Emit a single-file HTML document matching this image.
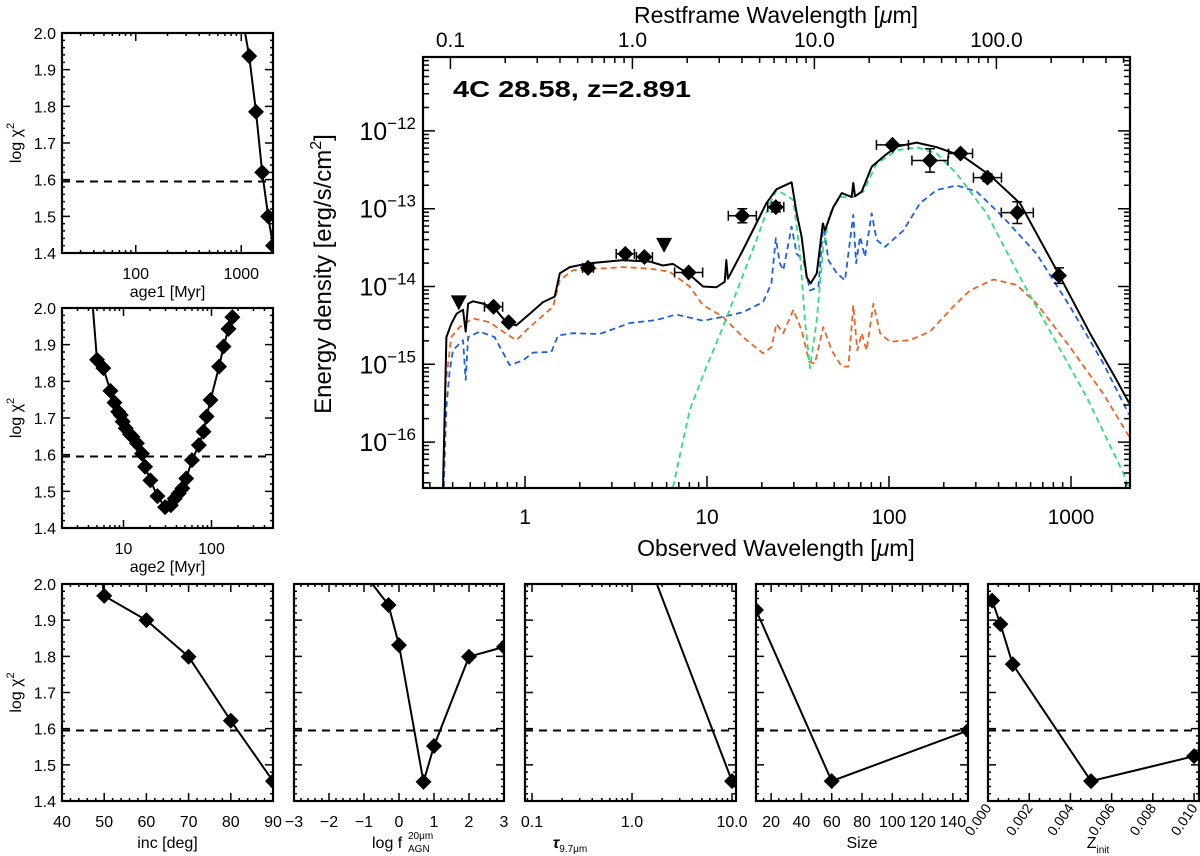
<!DOCTYPE html>
<html>
<head>
<meta charset="utf-8">
<style>
html,body{margin:0;padding:0;background:#fff;}
svg{display:block;font-family:"Liberation Sans","DejaVu Sans",sans-serif;}
</style>
</head>
<body>
<svg id="chart" width="1200" height="856" viewBox="0 0 1200 856" xmlns="http://www.w3.org/2000/svg">
<defs>
<clipPath id="clipMain"><rect x="423" y="57" width="707" height="431"/></clipPath>
</defs>
<rect x="0" y="0" width="1200" height="856" fill="#fff"/>
</svg>
<script>
// ===== MAIN SED DATA (log10 wavelength [um], log10 flux) =====
const totalLogLam=[-0.451,-0.432,-0.405,-0.376,-0.341,-0.326,-0.313,-0.286,-0.231,-0.167,-0.103,-0.048,0.026,0.099,0.163,0.191,0.246,0.355,0.538,0.685,0.758,0.813,0.905,0.978,1.051,1.097,1.106,1.115,1.198,1.271,1.326,1.381,1.465,1.493,1.520,1.548,1.570,1.603,1.636,1.648,1.694,1.740,1.795,1.804,1.813,1.850,1.905,1.969,2.042,2.152,2.262,2.408,2.555,2.720,2.921,3.104,3.25,3.32];
const totalLogF=[-16.58,-14.65,-14.48,-14.35,-14.30,-14.58,-14.22,-14.19,-14.22,-14.28,-14.46,-14.50,-14.35,-14.20,-14.13,-13.83,-13.75,-13.70,-13.66,-13.68,-13.73,-13.71,-13.85,-14.00,-14.01,-13.94,-13.66,-13.90,-13.53,-13.19,-12.93,-12.75,-12.66,-13.06,-13.36,-13.88,-13.96,-13.83,-13.19,-13.28,-12.98,-12.80,-12.85,-12.67,-12.84,-12.78,-12.46,-12.33,-12.20,-12.15,-12.21,-12.33,-12.57,-12.93,-13.79,-14.60,-15.20,-15.50];
const starLogLam=[-0.446,-0.436,-0.405,-0.359,-0.286,-0.194,-0.121,-0.048,0.026,0.154,0.191,0.264,0.538,0.685,0.795,0.905,0.978,1.088,1.198,1.308,1.354,1.381,1.419,1.474,1.520,1.562,1.593,1.639,1.685,1.740,1.777,1.804,1.826,1.850,1.877,1.914,1.951,2.005,2.115,2.225,2.353,2.445,2.573,2.701,2.811,2.995,3.178,3.32];
const starLogF=[-16.58,-15.25,-14.65,-14.52,-14.41,-14.46,-14.58,-14.69,-14.52,-14.26,-13.92,-13.79,-13.75,-13.77,-13.81,-14.00,-14.24,-14.39,-14.65,-14.86,-14.78,-14.48,-14.60,-14.30,-14.56,-14.97,-14.99,-14.52,-14.82,-15.03,-15.03,-14.24,-14.82,-14.60,-14.82,-14.22,-14.60,-14.71,-14.69,-14.58,-14.26,-14.05,-13.91,-13.98,-14.22,-14.78,-15.38,-15.93];
const agnLogLam=[-0.447,-0.432,-0.414,-0.396,-0.341,-0.326,-0.313,-0.249,-0.167,-0.084,-0.011,0.044,0.145,0.181,0.264,0.410,0.575,0.722,0.832,0.978,1.088,1.198,1.308,1.354,1.378,1.400,1.419,1.465,1.493,1.530,1.566,1.612,1.639,1.667,1.713,1.758,1.804,1.819,1.841,1.868,1.905,1.932,1.978,2.079,2.170,2.262,2.372,2.482,2.628,2.811,2.995,3.178,3.32];
const agnLogF=[-16.58,-15.55,-15.08,-14.82,-14.69,-15.20,-14.65,-14.58,-14.65,-15.01,-14.95,-14.85,-14.84,-14.63,-14.60,-14.61,-14.47,-14.43,-14.36,-14.44,-14.39,-14.33,-14.20,-13.96,-13.38,-13.70,-13.79,-13.23,-13.58,-13.66,-14.05,-14.01,-13.19,-13.66,-13.83,-13.92,-13.08,-13.70,-13.36,-13.62,-13.06,-13.40,-13.49,-13.28,-12.93,-12.76,-12.70,-12.78,-13.11,-13.58,-14.26,-14.99,-15.65];
const sbLogLam=[0.813,0.905,0.997,1.088,1.180,1.272,1.345,1.383,1.438,1.474,1.511,1.538,1.566,1.603,1.639,1.676,1.731,1.804,1.859,1.932,2.042,2.152,2.262,2.372,2.537,2.720,2.903,3.086,3.288,3.316];
const sbLogF=[-16.58,-15.59,-15.03,-14.52,-13.96,-13.40,-12.93,-12.76,-12.83,-12.89,-13.58,-14.43,-15.05,-14.43,-13.49,-13.06,-12.85,-12.85,-12.78,-12.42,-12.25,-12.21,-12.29,-12.55,-13.06,-13.88,-14.65,-15.42,-16.40,-16.58];
// photometry
const obsLogLam=[-0.173,-0.090,0.346,0.551,0.656,0.899,1.194,1.378,2.019,2.225,2.393,2.541,2.705,2.934];
const obsLogF=[-14.26,-14.46,-13.76,-13.58,-13.62,-13.82,-13.09,-12.98,-12.18,-12.38,-12.29,-12.60,-13.05,-13.86];
const obsXErr=[0.05,0,0.03,0.05,0.044,0.077,0.077,0.044,0.088,0.099,0.066,0.077,0.088,0];
const obsYErr=[0,0,0,0,0,0,0.09,0.06,0.03,0.15,0.02,0.05,0.14,0.1];
const limLogLam=[-0.364,0.764];
const limLogF=[-14.23,-13.49];
// ===== CHI2 PANEL DATA =====
const age1Vals=[1000,1190,1380,1580,1800,2000];
const age1Chi=[2.06,1.937,1.785,1.62,1.50,1.42];
const age2Vals=[4.0,5.0,5.9,7.1,7.9,8.7,9.3,9.8,10.6,11.8,12.6,14.2,16.2,17.6,20.2,24.3,29.7,34.5,38.2,42.3,46.7,51.6,60,71.9,81.2,88.1,97.5,122,137,156,173];
const age2Chi=[2.15,1.859,1.836,1.774,1.742,1.717,1.708,1.690,1.672,1.656,1.649,1.631,1.603,1.567,1.530,1.487,1.457,1.462,1.480,1.494,1.508,1.535,1.585,1.626,1.663,1.704,1.749,1.840,1.895,1.943,1.975];
const incVals=[45,50,60,70,80,90];
const incChi=[2.4,1.967,1.900,1.799,1.622,1.455];
const fagnVals=[-1,-0.3,0,0.7,1,2,3];
const fagnChi=[2.03,1.942,1.831,1.453,1.552,1.799,1.826];
const tauVals=[1.0,10.0];
const tauChi=[2.18,1.455];
const sizeVals=[10,60,150];
const sizeChi=[1.928,1.455,1.595];
const zVals=[0.0002,0.0006,0.0012,0.005,0.01];
const zChi=[1.954,1.889,1.778,1.455,1.524];
const chiThreshold=1.595;

const NS='http://www.w3.org/2000/svg';
const svg=document.getElementById('chart');
function mk(tag,attrs,parent){const e=document.createElementNS(NS,tag);for(const k in attrs)e.setAttribute(k,attrs[k]);(parent||svg).appendChild(e);return e;}
const L10=Math.log10;

// ===== MAIN PANEL =====
const MX0=423,MX1=1130,MY0=57,MY1=488;
const LX0=L10(0.275),LX1=L10(2110),LY0=-16.59,LY1=-11.05;
function mxL(l){return MX0+(l-LX0)/(LX1-LX0)*(MX1-MX0);}
function myL(f){return MY1-(f-LY0)/(LY1-LY0)*(MY1-MY0);}
const mainG=mk('g',{});


const curveG=mk('g',{'clip-path':'url(#clipMain)'},mainG);
function curve(lx,lf,color,dash,w,name){
  let d='';for(let i=0;i<lx.length;i++)d+=(i?'L':'M')+mxL(lx[i]).toFixed(1)+' '+myL(lf[i]).toFixed(1);
  const p=mk('path',{d:d,fill:'none',stroke:color,'stroke-width':w,'stroke-dasharray':dash||'none','stroke-linejoin':'round'},curveG);
  
  
}
curve(starLogLam,starLogF,'#ef6423','6 4',1.8,'stellar-component-curve');
curve(agnLogLam,agnLogF,'#1f5fe6','6 4',1.8,'agn-component-curve');
curve(sbLogLam,sbLogF,'#2ddf7a','6 4',1.8,'starburst-component-curve');
curve(totalLogLam,totalLogF,'#000','',2,'total-model-curve');
for(let i=0;i<obsLogLam.length;i++){
  const cx=mxL(obsLogLam[i]),cy=myL(obsLogF[i]);
  const g=mk('g',{},curveG);
  
  
  if(obsXErr[i]>0){const a=mxL(obsLogLam[i]-obsXErr[i]),b=mxL(obsLogLam[i]+obsXErr[i]);
    mk('path',{d:`M${a} ${cy}H${b}M${a} ${cy-5}V${cy+5}M${b} ${cy-5}V${cy+5}`,stroke:'#000','stroke-width':1.5,fill:'none'},g);}
  if(obsYErr[i]>0){const a=myL(obsLogF[i]-obsYErr[i]),b=myL(obsLogF[i]+obsYErr[i]);
    mk('path',{d:`M${cx} ${a}V${b}M${cx-5} ${a}H${cx+5}M${cx-5} ${b}H${cx+5}`,stroke:'#000','stroke-width':1.5,fill:'none'},g);}
  mk('polygon',{points:`${cx},${cy-8} ${cx+8},${cy} ${cx},${cy+8} ${cx-8},${cy}`,fill:'#000'},g);
}
for(let i=0;i<limLogLam.length;i++){
  const cx=mxL(limLogLam[i]),cy=myL(limLogF[i]);
  const t=mk('polygon',{points:`${cx-8},${cy-9} ${cx+8},${cy-9} ${cx},${cy+6}`,fill:'#000'},curveG);
  
  
}
mk('rect',{x:MX0,y:MY0,width:MX1-MX0,height:MY1-MY0,fill:'none',stroke:'#000','stroke-width':2.2},mainG);
// main ticks
let tk='';
for(let e=-1;e<=3;e++)for(let k=1;k<=9;k++){const l=e+L10(k);if(l<LX0||l>LX1)continue;const x=mxL(l),len=k==1?12:6;tk+=`M${x} ${MY1}V${MY1-len}`;}
for(let e=-1;e<=2;e++)for(let k=1;k<=9;k++){const l=e+L10(k)+L10(3.891);if(l<LX0||l>LX1)continue;const x=mxL(l),len=k==1?12:6;tk+=`M${x} ${MY0}V${MY0+len}`;}
for(let e=-17;e<=-11;e++)for(let k=1;k<=9;k++){const f=e+L10(k);if(f<LY0||f>LY1)continue;const y=myL(f),len=k==1?12:6;tk+=`M${MX0} ${y}H${MX0+len}M${MX1} ${y}H${MX1-len}`;}
mk('path',{d:tk,stroke:'#000','stroke-width':1.5,fill:'none'},mainG);
const botLabels=['1','10','100','1000'];
botLabels.forEach((s,i)=>{const t=mk('text',{x:mxL(i),y:524,'font-size':21,'text-anchor':'middle'},mainG);t.textContent=s;
  });
const topLabels=['0.1','1.0','10.0','100.0'];
topLabels.forEach((s,i)=>{const t=mk('text',{x:mxL(i-1+L10(3.891)),y:47,'font-size':21,'text-anchor':'middle'},mainG);t.textContent=s;
  });
const yExps=['−12','−13','−14','−15','−16'];
yExps.forEach((s,i)=>{const t=mk('text',{x:416,y:myL(-12-i)+9,'font-size':25,'text-anchor':'end'},mainG);
  t.innerHTML=`10<tspan font-size="17" dy="-11">${s}</tspan>`;
  });
let t=mk('text',{x:776,y:556,'font-size':23,'text-anchor':'middle'});t.innerHTML='Observed Wavelength [<tspan font-style="italic">μ</tspan>m]';

t=mk('text',{x:776,y:23,'font-size':23,'text-anchor':'middle'});t.innerHTML='Restframe Wavelength [<tspan font-style="italic">μ</tspan>m]';

t=mk('text',{x:0,y:0,'font-size':24,'text-anchor':'middle',transform:'translate(331,274) rotate(-90)'});t.innerHTML='Energy density [erg/s/cm<tspan font-size="16" dy="-10">2</tspan><tspan dy="10">]</tspan>';

t=mk('text',{x:453,y:97,'font-size':23,'font-weight':'bold',textLength:238,lengthAdjust:'spacingAndGlyphs'});t.textContent='4C 28.58, z=2.891';


// ===== CHI2 PANELS =====
let clipN=0;
function panel(o){
  const {x0,x1,y0,y1}=o;
  const sx=v=>o.log? x0+(L10(v)-L10(o.xmin))/(L10(o.xmax)-L10(o.xmin))*(x1-x0) : x0+(v-o.xmin)/(o.xmax-o.xmin)*(x1-x0);
  const sy=v=>y1-(v-1.4)/0.6*(y1-y0);
  const g=mk('g',{});
  
  
  const id='cp'+(clipN++);
  const cp=mk('clipPath',{id:id},svg.querySelector('defs'));
  mk('rect',{x:x0,y:y0,width:x1-x0,height:y1-y0},cp);
  const inner=mk('g',{'clip-path':`url(#${id})`},g);
  const dl=mk('line',{x1:x0,x2:x1,y1:sy(chiThreshold),y2:sy(chiThreshold),stroke:'#000','stroke-width':2,'stroke-dasharray':'8 6'},inner);
  
  
  let d='';o.xs.forEach((v,i)=>{d+=(i?'L':'M')+sx(v).toFixed(1)+' '+sy(o.ys[i]).toFixed(1);});
  const ln=mk('path',{d:d,fill:'none',stroke:'#000','stroke-width':2},inner);
  
  
  o.xs.forEach((v,i)=>{const cx=sx(v),cy=sy(o.ys[i]);
    const m=mk('polygon',{points:`${cx},${cy-8} ${cx+8},${cy} ${cx},${cy+8} ${cx-8},${cy}`,fill:'#000'},inner);
    
    });
  mk('rect',{x:x0,y:y0,width:x1-x0,height:y1-y0,fill:'none',stroke:'#000','stroke-width':2.2},g);
  let tk='';
  for(let k=0;k<=30;k++){const v=1.4+k*0.02,y=sy(v),len=k%5==0?8:3;tk+=`M${x0} ${y}H${x0+len}M${x1} ${y}H${x1-len}`;}
  o.xMinor.forEach(v=>{const x=sx(v);if(x<x0||x>x1)return;tk+=`M${x} ${y1}V${y1-3}M${x} ${y0}V${y0+3}`;});
  o.xMajor.forEach(v=>{const x=sx(v);tk+=`M${x} ${y1}V${y1-8}M${x} ${y0}V${y0+8}`;});
  mk('path',{d:tk,stroke:'#000','stroke-width':1.5,fill:'none'},g);
  o.xMajor.forEach((v,i)=>{let tt;
    if(o.rot){tt=mk('text',{x:0,y:0,'font-size':14,'text-anchor':'end',transform:`translate(${sx(v)+4},${y1+7}) rotate(-55)`},g);}
    else tt=mk('text',{x:sx(v),y:y1+26,'font-size':16,'text-anchor':'middle'},g);
    tt.textContent=o.xLabels[i];
    
    });
  if(o.yLabels){
    for(let k=0;k<=6;k++){const tt=mk('text',{x:x0-6,y:sy(1.4+k*0.1)+6,'font-size':16,'text-anchor':'end'},g);tt.textContent=(1.4+k*0.1).toFixed(1);
      }
    const yt=mk('text',{x:0,y:0,'font-size':16,'text-anchor':'middle',transform:`translate(21,${(y0+y1)/2}) rotate(-90)`},g);
    yt.innerHTML='log χ<tspan font-size="11" dy="-7">2</tspan>';
    
  }
  const xt=mk('text',{x:o.xtX||(x0+x1)/2,y:y1+(o.xtDy||47),'font-size':16,'text-anchor':o.xtAnchor||'middle'},g);
  xt.innerHTML=o.xTitle;
  
}
function logMinor(a,b){const r=[];for(let e=a;e<=b;e++)for(let k=2;k<=9;k++)r.push(k*Math.pow(10,e));return r;}
function linMinor(a,b,s){const r=[];for(let v=a;v<=b+1e-9;v+=s)r.push(v);return r;}
panel({name:'age1-chi2-panel',x0:62,x1:273,y0:33,y1:253,log:true,xmin:20,xmax:2000,xs:age1Vals,ys:age1Chi,xMajor:[100,1000],xLabels:['100','1000'],xMinor:logMinor(1,3),yLabels:true,xTitle:'age1 [Myr]',xtDy:44});
panel({name:'age2-chi2-panel',x0:62,x1:273,y0:308,y1:528,log:true,xmin:2,xmax:500,xs:age2Vals,ys:age2Chi,xMajor:[10,100],xLabels:['10','100'],xMinor:logMinor(0,2),yLabels:true,xTitle:'age2 [Myr]',xtDy:44});
panel({name:'inclination-chi2-panel',x0:62,x1:273,y0:584,y1:801,xmin:40,xmax:90,xs:incVals,ys:incChi,xMajor:[40,50,60,70,80,90],xLabels:['40','50','60','70','80','90'],xMinor:linMinor(40,90,2),yLabels:true,xTitle:'inc [deg]'});
panel({name:'agn-fraction-chi2-panel',x0:294,x1:504,y0:584,y1:801,xmin:-3,xmax:3,xs:fagnVals,ys:fagnChi,xMajor:[-3,-2,-1,0,1,2,3],xLabels:['−3','−2','−1','0','1','2','3'],xMinor:linMinor(-3,3,0.2),xtAnchor:'start',xtX:372,xTitle:'log f<tspan font-size="10" x="408" dy="-9">20μm</tspan><tspan font-size="10" x="408" dy="13">AGN</tspan>'});
panel({name:'tau-chi2-panel',x0:525,x1:736,y0:584,y1:801,log:true,xmin:0.0851,xmax:10.96,xs:tauVals,ys:tauChi,xMajor:[0.1,1,10],xLabels:['0.1','1.0','10.0'],xMinor:logMinor(-2,1),xTitle:'<tspan font-style="italic" font-weight="bold">τ</tspan><tspan font-size="10" dy="4">9.7μm</tspan>',xtX:570});
panel({name:'size-chi2-panel',x0:756,x1:968,y0:584,y1:801,xmin:10,xmax:150,xs:sizeVals,ys:sizeChi,xMajor:[20,40,60,80,100,120,140],xLabels:['20','40','60','80','100','120','140'],xMinor:linMinor(10,150,5),xTitle:'Size'});
panel({name:'metallicity-chi2-panel',x0:988,x1:1199,y0:584,y1:801,xmin:0,xmax:0.01024,xs:zVals,ys:zChi,xMajor:[0,0.002,0.004,0.006,0.008,0.01],xLabels:['0.000','0.002','0.004','0.006','0.008','0.010'],xMinor:linMinor(0,0.01,0.0005),rot:true,xTitle:'Z<tspan font-size="10" dy="5">init</tspan>',xtX:1098});
</script>
</body>
</html>
